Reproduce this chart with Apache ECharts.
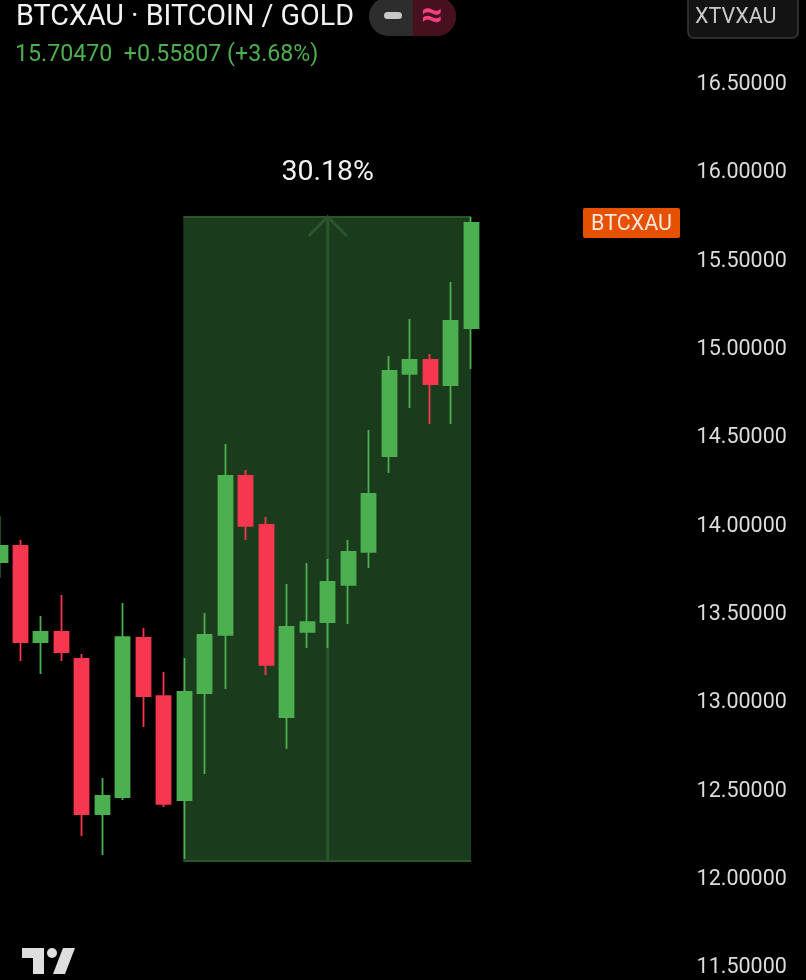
<!DOCTYPE html>
<html>
<head>
<meta charset="utf-8">
<style>html,body{margin:0;padding:0;background:#000;overflow:hidden}#c{width:806px;height:980px}</style>
<script src="https://cdn.jsdelivr.net/npm/echarts@6/dist/echarts.min.js"></script>
</head>
<body>
<div id="c"></div>
<script>
const opens  = [13.782,13.873,13.329,13.386,13.233,12.355,12.451,13.352,13.023,12.434,13.040,13.369,14.269,13.992,12.904,13.386,13.442,13.652,13.839,14.382,14.847,14.926,14.784,15.107];
const closes = [13.873,13.329,13.386,13.272,12.355,12.457,13.357,13.023,12.412,13.046,13.369,14.269,13.986,13.199,13.414,13.442,13.669,13.839,14.167,14.864,14.926,14.790,15.147,15.702];
const lows   = [13.691,13.221,13.148,13.221,12.230,12.123,12.434,12.848,12.395,12.100,12.582,13.063,13.907,13.142,12.723,13.295,13.295,13.431,13.748,14.286,14.654,14.563,14.563,14.875];
const highs  = [14.042,13.907,13.476,13.595,13.261,12.559,13.550,13.408,13.159,13.238,13.493,14.450,14.303,14.037,13.657,13.776,13.799,13.907,14.529,14.948,15.158,14.960,15.367,15.736];
const tickLabels = [11.5,12,12.5,13,13.5,14,14.5,15,15.5,16,16.5];
const rangeStartIndex = 9, rangeEndIndex = 23, rangeLow = 12.089, rangeHigh = 15.736;
const rangeLabel = '30.18%';
const symbolTitle = 'BTCXAU · BITCOIN / GOLD';
const lastValues = '15.70470  +0.55807 (+3.68%)';
const totalSlots = 34;

const categories = Array.from({length: totalSlots}, (_, i) => String(i));
const candles = opens.map((o, i) => [o, closes[i], lows[i], highs[i]]);

const chart = echarts.init(document.getElementById('c'), null, {renderer: 'canvas', width: 806, height: 980});
const font = 'Roboto';
const UP = '#4caf50', DOWN = '#f7374f';
const step = 20.48;

chart.setOption({
  backgroundColor: '#000',
  animation: false,
  grid: {left: -step / 2, top: -6.3, width: step * totalSlots, height: 1059.6, outerBoundsMode: 'none', containLabel: false},
  xAxis: {type: 'category', data: categories, show: false, boundaryGap: true},
  yAxis: {
    type: 'value', min: 11, max: 17, interval: 0.5, position: 'right', scale: true,
    splitLine: {show: false}, axisLine: {show: false}, axisTick: {show: false},
    axisLabel: {
      customValues: tickLabels, color: '#dcdcdc', fontFamily: font, fontSize: 21.5, margin: 10.5,
      verticalAlign: 'top', lineHeight: 5.5,
      formatter: v => v.toFixed(5)
    }
  },
  series: [
    {
      type: 'custom', z: 1, clip: false, silent: true,
      data: [[rangeStartIndex, rangeEndIndex, rangeLow, rangeHigh]],
      encode: {x: [0, 1], y: [2, 3]},
      renderItem(params, api) {
        const a = api.coord([api.value(0), api.value(3)]);
        const b = api.coord([api.value(1), api.value(2)]);
        const mx = (a[0] + b[0]) / 2;
        const edge = {stroke: '#2a552c', lineWidth: 2};
        const left = a[0] - 1;
        return {type: 'group', children: [
          {type: 'rect', shape: {x: left, y: a[1], width: b[0] - left, height: b[1] - a[1]}, style: {fill: '#1b3c1c'}},
          {type: 'line', shape: {x1: left, y1: a[1], x2: b[0], y2: a[1]}, style: edge},
          {type: 'line', shape: {x1: left, y1: b[1], x2: b[0], y2: b[1]}, style: edge},
          {type: 'line', shape: {x1: mx, y1: a[1], x2: mx, y2: b[1]}, style: {stroke: '#2a552c', lineWidth: 3}},
          {type: 'polyline', shape: {points: [[mx - 19, a[1] + 19], [mx, a[1]], [mx + 19, a[1] + 19]]}, style: {stroke: '#2a552c', lineWidth: 3, fill: 'none'}},
          {type: 'text', style: {text: rangeLabel, x: mx, y: a[1] - 44, align: 'center', verticalAlign: 'middle', fill: '#f2f2f2', font: '28.5px Roboto'}}
        ]};
      }
    },
    {
      type: 'candlestick', z: 2, barWidth: 14.5,
      data: candles,
      itemStyle: {color: UP, color0: DOWN, borderColor: UP, borderColor0: DOWN, borderWidth: 1.8}
    }
  ],
  graphic: [
    {type: 'text', left: 16, top: 3, style: {text: symbolTitle, fill: '#f2f2f2', font: '28.7px Roboto'}},
    {type: 'text', left: 15, top: 44, style: {text: lastValues, fill: UP, font: '23.2px Roboto'}},
    {type: 'rect', shape: {x: 369, y: -3, width: 87, height: 39, r: 19.5}, style: {fill: '#2d2d2d'}},
    {type: 'rect', shape: {x: 413, y: -3, width: 43, height: 39, r: [0, 19.5, 19.5, 0]}, style: {fill: '#46101f'}},
    {type: 'rect', shape: {x: 384, y: 12, width: 18, height: 7, r: 3.5}, style: {fill: '#c8c8c8'}},
    {type: 'text', x: 432, y: 17, style: {text: '≈', fill: '#f7407f', font: 'bold 38px Roboto', align: 'center', verticalAlign: 'middle'}},
    {type: 'rect', shape: {x: 688, y: -6, width: 110, height: 44, r: 6}, style: {fill: '#131313', stroke: '#3a3a3a', lineWidth: 1.5}},
    {type: 'text', x: 695, y: 18, style: {text: 'XTVXAU', fill: '#c9c9c9', font: '21.5px Roboto', verticalAlign: 'middle'}},
    {type: 'rect', shape: {x: 583, y: 208, width: 97, height: 30, r: 2}, style: {fill: '#e65100'}},
    {type: 'text', x: 631.5, y: 225, style: {text: 'BTCXAU', fill: '#f5e6dc', font: '21.5px Roboto', align: 'center', verticalAlign: 'middle'}},
    {type: 'polygon', shape: {points: [[22, 948], [44, 948], [44, 974], [33, 974], [33, 958], [22, 958]]}, style: {fill: '#dedede'}},
    {type: 'circle', shape: {cx: 52, cy: 953, r: 5}, style: {fill: '#dedede'}},
    {type: 'polygon', shape: {points: [[63, 948], [75, 948], [65, 974], [53, 974]]}, style: {fill: '#dedede'}}
  ]
});
</script>
</body>
</html>
